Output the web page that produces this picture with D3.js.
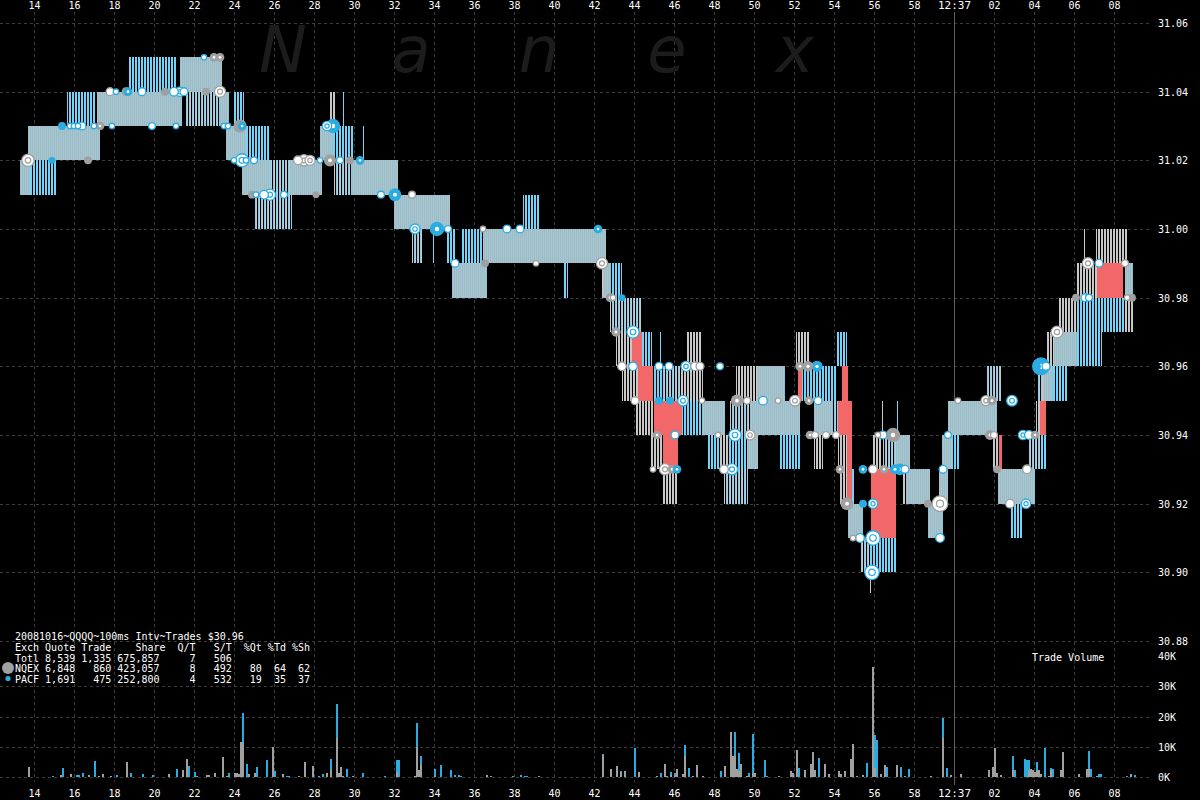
<!DOCTYPE html>
<html><head><meta charset="utf-8">
<script src="https://cdn.jsdelivr.net/npm/d3@7"></script>
<style>
body{margin:0;background:#000;}
svg{display:block;background:#000;}
text{font-family:"DejaVu Sans Mono",monospace;fill:#fff;}
</style>
</head><body>
<svg id="c" width="1200" height="800"></svg>
<script>
// ---------- DATA ----------
// time in seconds after 12:36:00
const timeTicks = [14,16,18,20,22,24,26,28,30,32,34,36,38,40,42,44,46,48,50,52,54,56,58,60,62,64,66,68];
const timeLabels = ["14","16","18","20","22","24","26","28","30","32","34","36","38","40","42","44","46","48","50","52","54","56","58","12:37","02","04","06","08"];
const priceTicks = [30.88,30.90,30.92,30.94,30.96,30.98,31.00,31.02,31.04,31.06];
const volumeTicks = [0,10000,20000,30000,40000];
const volumeLabels = ["0K","10K","20K","30K","40K"];

// quote spans: [start, end, low, high, kind]
// kind: S both exchanges same quote, B PACF only, G NQEX only, M mixed, R crossed/locked
const quotes = [
[13.3,13.8,31.01,31.02,"S"],[13.8,15.1,31.01,31.02,"B"],[13.7,17.3,31.02,31.03,"S"],
[15.65,17.1,31.03,31.04,"B"],[17.15,21.4,31.03,31.04,"S"],[18.75,21.1,31.04,31.05,"B"],
[21.3,23.4,31.04,31.05,"S"],[21.6,23.3,31.03,31.04,"M"],[23.3,23.75,31.03,31.04,"S"],
[24.0,24.5,31.03,31.04,"B"],[23.6,24.6,31.02,31.03,"S"],[24.6,25.8,31.02,31.03,"B"],
[24.4,25.8,31.01,31.02,"S"],[25.8,26.8,31.01,31.02,"M"],[26.8,28.4,31.01,31.02,"S"],
[25.0,26.9,31.00,31.01,"M"],[28.3,28.95,31.02,31.03,"S"],[28.8,29.05,31.03,31.04,"G"],
[29.45,29.5,31.03,31.04,"B"],[28.95,30.0,31.02,31.03,"B"],[30.45,30.5,31.02,31.03,"B"],
[29.0,29.9,31.01,31.02,"M"],[29.9,32.2,31.01,31.02,"S"],[32.0,34.8,31.00,31.01,"S"],
[32.9,33.4,30.99,31.00,"M"],[33.95,34.05,30.99,31.00,"B"],[34.65,35.1,30.99,31.00,"B"],
[34.9,36.65,30.98,30.99,"S"],[35.35,36.45,30.99,31.00,"B"],[36.45,42.6,30.99,31.00,"S"],
[38.45,39.3,31.00,31.01,"B"],[40.45,40.7,30.98,30.99,"B"],[42.4,42.45,30.98,30.99,"G"],
[42.45,42.85,30.98,30.99,"S"],[42.85,43.4,30.98,30.99,"B"],[42.8,42.85,30.97,30.98,"G"],
[42.9,44.4,30.97,30.98,"M"],[43.1,43.9,30.96,30.97,"G"],[43.9,44.4,30.96,30.97,"R"],
[44.4,44.9,30.96,30.97,"B"],[45.3,45.35,30.96,30.97,"B"],[43.4,44.2,30.95,30.96,"G"],
[44.2,44.95,30.95,30.96,"R"],[44.95,45.4,30.95,30.96,"B"],[45.4,46.3,30.95,30.96,"M"],
[46.3,47.45,30.95,30.96,"G"],[46.6,47.4,30.96,30.97,"G"],[44.1,45.0,30.94,30.95,"G"],
[45.0,46.4,30.94,30.95,"R"],[45.45,46.2,30.93,30.94,"R"],[46.4,47.4,30.94,30.95,"B"],
[47.4,48.55,30.94,30.95,"S"],[44.8,45.45,30.93,30.94,"G"],[45.4,46.15,30.92,30.93,"G"],
[47.65,48.3,30.93,30.94,"B"],[48.3,48.7,30.93,30.94,"G"],[48.5,49.7,30.92,30.93,"M"],
[48.7,49.65,30.93,30.94,"B"],[49.65,50.2,30.93,30.94,"S"],[48.8,49.8,30.94,30.95,"M"],
[49.1,50.15,30.95,30.96,"G"],[49.8,52.3,30.94,30.95,"S"],[50.15,51.55,30.95,30.96,"S"],
[51.25,52.3,30.93,30.94,"B"],[52.1,52.8,30.96,30.97,"G"],[52.15,54.15,30.95,30.96,"B"],
[52.2,52.4,30.95,30.96,"R"],[53.0,53.95,30.94,30.95,"S"],[53.0,53.45,30.93,30.94,"G"],
[54.15,54.65,30.96,30.97,"B"],[53.95,54.3,30.94,30.95,"M"],[54.4,54.7,30.95,30.96,"R"],
[54.2,54.9,30.94,30.95,"R"],[54.2,54.65,30.93,30.94,"G"],[54.3,54.65,30.92,30.93,"G"],
[54.65,54.9,30.92,30.94,"R"],[54.9,55.0,30.92,30.93,"B"],[54.7,55.45,30.91,30.92,"S"],
[55.3,55.8,30.90,30.91,"M"],[55.8,57.15,30.90,30.91,"B"],[55.85,57.1,30.91,30.93,"R"],
[55.95,56.4,30.93,30.94,"G"],[56.45,57.2,30.93,30.94,"M"],[57.1,57.8,30.93,30.94,"S"],
[56.4,56.45,30.94,30.95,"G"],[57.15,57.2,30.94,30.95,"B"],[55.8,55.85,30.894,30.90,"G"],
[57.4,57.65,30.92,30.93,"G"],[57.6,58.8,30.92,30.93,"S"],[58.7,59.45,30.91,30.92,"S"],
[59.25,59.7,30.92,30.93,"S"],[59.4,59.9,30.93,30.94,"S"],[59.9,60.3,30.93,30.94,"B"],
[59.7,62.15,30.94,30.95,"S"],[61.6,62.4,30.95,30.96,"M"],[61.9,62.3,30.93,30.94,"G"],
[62.25,62.4,30.93,30.94,"R"],[62.2,64.05,30.92,30.93,"S"],[62.8,63.45,30.91,30.92,"B"],
[63.7,64.3,30.93,30.94,"M"],[64.3,64.6,30.94,30.95,"R"],[64.3,64.6,30.93,30.94,"B"],
[64.1,64.3,30.94,30.95,"G"],[64.2,64.45,30.95,30.96,"M"],[64.45,64.95,30.95,30.96,"S"],
[64.95,65.65,30.95,30.96,"B"],[64.6,65.0,30.96,30.97,"G"],[65.0,66.15,30.96,30.97,"S"],
[66.15,67.4,30.96,30.97,"B"],[65.2,66.15,30.97,30.98,"G"],[66.15,68.65,30.97,30.98,"B"],
[68.55,68.95,30.97,30.98,"G"],[66.1,67.15,30.98,30.99,"G"],[67.15,68.45,30.98,30.99,"R"],
[68.55,68.95,30.98,30.99,"S"],[67.1,68.65,30.99,31.00,"G"],[66.5,66.55,30.99,31.00,"G"]
];

// trades: [time, price, exchange, shares, mark]  mark: o = open (white centre), f = filled
const trades = [
[13.7,31.02,"N",1000,"o"],[14.9,31.02,"P",200,"f"],[15.4,31.03,"P",300,"f"],[15.8,31.03,"P",100,"o"],
[16.0,31.03,"P",100,"o"],[16.2,31.03,"P",100,"o"],[16.4,31.03,"P",300,"o"],[16.7,31.02,"N",300,"f"],
[17.0,31.03,"P",100,"o"],[17.3,31.03,"N",400,"f"],[17.8,31.04,"N",300,"o"],[18.1,31.04,"P",100,"o"],
[17.9,31.03,"P",100,"o"],[18.6,31.04,"N",400,"f"],[18.7,31.04,"P",400,"f"],[19.4,31.04,"P",300,"o"],
[19.9,31.03,"P",200,"o"],[20.55,31.04,"N",300,"f"],[21.0,31.04,"P",400,"o"],[21.3,31.04,"P",500,"o"],
[21.5,31.04,"P",300,"o"],[21.1,31.03,"P",100,"o"],[22.5,31.05,"P",100,"o"],[23.0,31.05,"N",400,"f"],
[23.3,31.05,"N",400,"f"],[22.6,31.04,"N",300,"f"],[23.3,31.04,"N",800,"o"],[23.5,31.03,"P",100,"o"],
[23.7,31.03,"P",100,"o"],[24.3,31.03,"N",1200,"f"],[24.4,31.03,"P",400,"f"],[24.0,31.02,"P",100,"o"],
[24.4,31.02,"P",1200,"o"],[24.6,31.02,"P",100,"o"],[25.0,31.02,"P",200,"o"],[24.9,31.01,"N",300,"f"],
[25.1,31.01,"P",100,"o"],[25.5,31.01,"P",400,"o"],[25.8,31.01,"P",800,"o"],[26.5,31.01,"P",200,"o"],
[27.2,31.02,"N",400,"o"],[27.5,31.02,"N",800,"o"],[27.8,31.02,"N",600,"o"],[28.1,31.01,"N",200,"f"],
[28.3,31.02,"P",100,"o"],[28.8,31.02,"N",1000,"f"],[29.3,31.02,"P",200,"o"],[29.8,31.02,"N",300,"f"],
[28.65,31.03,"P",500,"o"],[28.95,31.03,"P",1500,"f"],[30.3,31.02,"P",400,"f"],[31.35,31.01,"P",200,"o"],
[32.05,31.01,"P",1100,"f"],[32.9,31.01,"N",200,"o"],[33.05,31.00,"P",600,"o"],[34.15,31.00,"P",1500,"f"],
[34.7,31.00,"P",200,"o"],[35.05,30.99,"P",300,"o"],[36.45,31.00,"N",100,"o"],[36.55,30.99,"N",300,"f"],
[37.65,31.00,"P",300,"o"],[38.3,31.00,"P",300,"o"],[39.1,30.99,"N",100,"o"],[42.2,31.00,"P",400,"f"],
[42.4,30.99,"N",800,"o"],[42.8,30.98,"N",400,"f"],[42.95,30.98,"N",100,"o"],[43.4,30.98,"P",200,"f"],
[43.1,30.97,"N",500,"f"],[43.95,30.97,"P",1000,"o"],[43.4,30.96,"N",400,"o"],[43.95,30.96,"P",400,"o"],
[45.25,30.96,"P",300,"o"],[45.75,30.96,"P",300,"o"],[46.6,30.96,"P",600,"o"],[47.05,30.96,"N",400,"o"],
[47.3,30.96,"N",300,"o"],[48.3,30.96,"P",200,"o"],[44.05,30.95,"N",300,"o"],[45.25,30.95,"P",300,"f"],
[45.8,30.95,"P",300,"f"],[46.45,30.95,"P",700,"o"],[47.4,30.95,"N",100,"o"],[45.15,30.94,"N",400,"f"],
[46.05,30.94,"P",300,"o"],[44.95,30.93,"N",100,"o"],[45.55,30.93,"N",800,"o"],[45.9,30.93,"N",400,"f"],
[46.15,30.93,"P",400,"f"],[48.2,30.94,"N",100,"o"],[49.05,30.94,"P",1000,"o"],[49.8,30.94,"N",600,"o"],
[48.5,30.93,"N",400,"o"],[48.9,30.93,"P",800,"o"],[49.15,30.95,"N",1000,"f"],[49.65,30.95,"N",200,"o"],
[50.45,30.95,"P",400,"o"],[51.2,30.95,"N",100,"o"],[52.05,30.95,"N",700,"o"],[52.75,30.95,"N",400,"f"],
[53.2,30.95,"P",300,"o"],[52.3,30.96,"N",500,"f"],[52.7,30.96,"N",700,"f"],[53.15,30.96,"P",800,"f"],
[52.8,30.94,"N",400,"f"],[53.05,30.94,"N",200,"o"],[53.6,30.94,"N",200,"o"],[54.1,30.94,"N",200,"o"],
[54.3,30.93,"N",400,"f"],[55.45,30.93,"P",400,"f"],[55.95,30.93,"N",400,"o"],[56.5,30.93,"N",400,"f"],
[57.05,30.93,"P",600,"f"],[54.65,30.92,"N",1100,"f"],[55.45,30.92,"P",300,"f"],[55.95,30.92,"P",500,"o"],
[54.95,30.91,"N",100,"o"],[55.3,30.91,"P",400,"o"],[55.95,30.91,"P",1500,"o"],[55.9,30.90,"P",1500,"o"],
[56.2,30.94,"N",100,"o"],[56.45,30.94,"P",300,"o"],[56.95,30.94,"N",1500,"f"],[57.55,30.93,"P",300,"o"],
[57.3,30.93,"P",900,"f"],[58.7,30.92,"N",300,"f"],[59.3,30.92,"N",1800,"o"],[59.3,30.91,"P",400,"o"],
[59.45,30.93,"P",300,"o"],[59.7,30.94,"P",200,"o"],[60.2,30.95,"N",100,"o"],[61.6,30.95,"N",600,"o"],
[61.9,30.95,"N",500,"f"],[61.8,30.94,"N",600,"f"],[62.0,30.94,"N",200,"o"],[62.9,30.95,"P",700,"o"],
[62.15,30.93,"N",300,"f"],[62.8,30.92,"N",400,"o"],[63.6,30.92,"P",500,"o"],[63.45,30.94,"P",500,"o"],
[63.75,30.94,"P",400,"o"],[64.05,30.94,"N",400,"f"],[63.65,30.93,"N",400,"o"],[64.15,30.96,"P",300,"f"],
[64.35,30.96,"P",2500,"f"],[64.6,30.96,"P",300,"o"],[65.15,30.97,"N",900,"o"],[66.1,30.98,"N",300,"f"],
[66.55,30.98,"P",300,"o"],[66.75,30.98,"P",200,"o"],[66.7,30.99,"N",800,"o"],[67.25,30.99,"P",300,"o"],
[68.55,30.99,"N",200,"o"],[68.65,30.98,"N",100,"o"],[68.9,30.98,"N",300,"f"]
];

// volume per 100ms interval: [time, NQEX shares, PACF shares]
const volumes = [
[13.7,3300,0],[14.9,0,200],[15.3,500,0],[15.4,0,3000],[15.8,1000,0],[16.1,0,500],[16.2,0,500],
[16.4,0,1300],[16.7,500,0],[17.0,0,5300],[17.2,200,0],[17.4,1000,0],[17.8,300,0],[18.1,0,800],
[18.6,5000,0],[18.8,0,1300],[19.4,0,1100],[19.9,0,800],[20.7,1100,0],[21.1,0,2700],[21.4,2200,0],
[21.6,6000,0],[21.7,0,3700],[22.0,0,1800],[22.1,200,0],[22.6,500,0],[22.7,800,0],[23.0,1300,0],
[23.4,6700,0],[23.6,300,0],[23.7,0,1300],[24.0,1300,0],[24.1,1300,0],[24.2,1100,0],[24.3,11600,0],
[24.4,11600,9600],[24.6,0,4300],[24.7,1100,0],[25.0,1300,0],[25.1,0,3300],[25.6,0,5700],
[25.9,10000,0],[26.0,0,2000],[26.4,1000,0],[26.6,0,400],[26.7,0,400],[27.2,200,0],[27.5,5000,0],
[27.9,3700,0],[28.2,0,400],[28.4,0,1000],[28.6,1300,0],[28.8,2200,3800],[29.1,13000,11000],
[29.2,1300,0],[29.3,3300,0],[29.4,200,0],[29.6,0,2700],[29.9,400,0],[30.4,0,1400],[31.5,0,200],
[32.1,1500,4000],[32.2,0,5700],[33.0,200,0],[33.1,10000,7900],[33.2,2400,0],[33.3,4000,3000],
[34.0,300,2400],[34.3,0,4000],[34.8,0,2400],[35.0,0,500],[35.2,0,500],[35.3,0,300],[36.6,800,0],
[36.8,200,0],[37.9,0,200],[38.3,0,800],[38.5,0,200],[38.6,0,200],[39.2,200,0],[42.4,7300,300],
[42.8,2700,0],[43.1,3700,0],[43.3,1500,500],[43.5,2000,0],[44.0,0,9500],[44.2,1700,0],[45.1,200,0],
[45.3,0,1400],[45.5,4400,0],[45.6,200,0],[45.8,500,1300],[46.0,500,800],[46.1,2600,0],[46.4,1000,0],
[46.5,7000,3600],[46.7,0,3000],[46.9,200,0],[47.1,4000,0],[47.4,400,0],[48.3,0,2000],[48.5,3700,0],
[48.8,14800,0],[48.9,7000,0],[49.0,7000,7800],[49.1,2500,200],[49.2,2000,6000],[49.3,4200,0],
[49.6,200,0],[49.7,300,1100],[49.9,1300,13000],[50.0,1300,0],[50.5,0,5500],[50.6,0,200],[51.2,200,0],
[51.8,2000,0],[51.9,1300,0],[52.1,8800,0],[52.2,0,3000],[52.5,2400,0],[52.8,4300,0],[52.9,8400,0],
[53.0,2400,0],[53.2,0,6200],[53.5,4300,0],[53.7,1000,0],[54.2,2000,0],[54.3,1000,0],[54.5,2000,0],
[54.8,6000,0],[54.9,11000,0],[55.1,200,0],[55.4,800,0],[55.6,0,4600],[55.9,36500,0],[56.0,3000,10800],
[56.1,0,12300],[56.3,1000,0],[56.5,4000,0],[56.6,0,3300],[57.1,4000,0],[57.3,0,3400],[57.5,200,0],
[57.7,0,2600],[58.8,300,0],[59.4,13000,6600],[59.6,0,3000],[59.8,500,0],[60.3,1000,0],[61.7,2400,0],
[61.9,3300,0],[62.0,9500,0],[62.1,1300,0],[62.3,500,0],[62.9,2200,4900],[63.0,0,2200],[63.5,0,6000],
[63.6,0,5600],[63.7,2400,3200],[63.8,2700,0],[63.9,2200,0],[64.0,1700,0],[64.1,2200,2800],
[64.2,2200,0],[64.3,1100,0],[64.5,0,9600],[64.7,200,0],[64.8,2400,600],[64.9,0,2600],[65.3,2400,0],
[65.4,8300,0],[66.2,1100,0],[66.6,2700,0],[66.7,2700,6000],[66.8,0,2600],[67.1,200,0],[67.2,0,1000],
[67.3,0,1000],[68.6,0,200],[68.8,1000,0],[69.0,0,800]
];

const watermark = ["N","a","n","e","x"];
const legendTitle = "20081016~QQQQ~100ms Intv~Trades $30.96";
const legendRows = [
"Exch Quote Trade    Share  Q/T   S/T  %Qt %Td %Sh",
"Totl 8,539 1,335 675,857     7   506",
"NQEX 6,848   860 423,057     8   492   80  64  62",
"PACF 1,691   475 252,800     4   532   19  35  37"
];
const legendExch = [null, null, "N", "P"];

// ---------- STYLE ----------
const C = {blue:"#2aace2", gray:"#a0a0a0", qBlue:"#72d4f8", qGray:"#c8c8c8",
           sBlue:"#88c4d8", sGray:"#bcbebf", red:"#f26868", grid:"#3c3c3c"};
const exchColor = {N:C.gray, P:C.blue};

// ---------- SCALES ----------
const svg = d3.select("#c");
const x = d3.scaleLinear().domain([14,68]).range([34,1114]);
const y = d3.scaleLinear().domain([30.88,31.06]).range([641,23]);
const yv = d3.scaleLinear().domain([0,40000]).range([777,656]);
const r = d3.scaleSqrt().domain([0,2500]).range([1.2,9]);
const step = x(0.1) - x(0); // one 100ms interval

// ---------- GRID ----------
const g = svg.append("g");
g.selectAll("line.vx").data(timeTicks).join("line")
  .attr("x1",d=>x(d)+0.5).attr("x2",d=>x(d)+0.5).attr("y1",12).attr("y2",782)
  .attr("stroke",C.grid).attr("stroke-dasharray","3,3");
g.selectAll("line.hp").data(priceTicks).join("line")
  .attr("x1",0).attr("x2",1152).attr("y1",d=>Math.round(y(d))+0.5).attr("y2",d=>Math.round(y(d))+0.5)
  .attr("stroke",C.grid).attr("stroke-dasharray","3,3");
g.selectAll("line.hv").data(volumeTicks.slice(0,4)).join("line")
  .attr("x1",0).attr("x2",1152).attr("y1",d=>Math.round(yv(d))+0.5).attr("y2",d=>Math.round(yv(d))+0.5)
  .attr("stroke",C.grid).attr("stroke-dasharray","3,3");

// minute line
svg.append("line").attr("x1",x(60)+0.5).attr("x2",x(60)+0.5).attr("y1",12).attr("y2",785)
  .attr("stroke","#5e5e5e").attr("stroke-width",1);

// watermark
const wm = d3.scalePoint().domain(watermark).range([283,795]);
svg.selectAll("text.wm").data(watermark).join("text")
  .attr("x",d=>wm(d)).attr("y",72).attr("text-anchor","middle")
  .style("font-family","'DejaVu Sans',sans-serif").style("font-style","italic")
  .style("font-size","64px").style("fill","#1c1c1c").text(d=>d);

// ---------- QUOTES (1px lines per pixel column within each span) ----------
const colOf = (kind, px) => {
  if(kind==="S") return px%2===0 ? C.sBlue : C.sGray;
  if(kind==="B") return px%3!==2 ? C.qBlue : null;
  if(kind==="G") return px%3!==2 ? C.qGray : null;
  if(kind==="M") return px%3===0 ? C.qBlue : (px%3===1 ? C.qGray : null);
};
const quoteG = svg.append("g").attr("shape-rendering","crispEdges");
quotes.forEach(q=>{
  const px0 = Math.round(x(q[0])), px1 = Math.max(px0+1, Math.round(x(q[1])));
  const yTop = Math.round(y(q[3])), yBot = Math.round(y(q[2]));
  if(q[4]==="R"){
    quoteG.append("rect").attr("x",px0).attr("y",yTop).attr("width",px1-px0).attr("height",yBot-yTop).attr("fill",C.red);
    return;
  }
  quoteG.append("rect").attr("x",px0).attr("y",yTop).attr("width",px1-px0).attr("height",yBot-yTop).attr("fill","#000");
  const byCol = {};
  for(let px=px0; px<px1; px++){
    let c = colOf(q[4], px);
    if(!c && px1-px0<=2 && px===px0) c = q[4]==="G" ? C.qGray : C.qBlue;
    if(!c) continue;
    (byCol[c] = byCol[c] || []).push(`M${px},${yTop}h1v${yBot-yTop}h-1z`);
  }
  Object.entries(byCol).forEach(([c,parts])=>quoteG.append("path").attr("d",parts.join("")).attr("fill",c));
});

// ---------- TRADES ----------
const tg = svg.append("g");
const sorted = trades.slice().sort((a,b)=>b[3]-a[3]);
sorted.forEach(d=>{
  const cx = x(d[0]), cy = y(d[1]), rr = Math.max(2.6, r(d[3]));
  const col = exchColor[d[2]];
  if(d[4]==="f"){
    tg.append("circle").attr("cx",cx).attr("cy",cy).attr("r",rr).attr("fill",col);
    if(rr>4) tg.append("circle").attr("cx",cx).attr("cy",cy).attr("r",rr*0.3).attr("fill","#fff");
  } else {
    tg.append("circle").attr("cx",cx).attr("cy",cy).attr("r",rr).attr("fill","#fff")
      .attr("stroke",col).attr("stroke-width",1.3);
    if(rr>4.5) tg.append("circle").attr("cx",cx).attr("cy",cy).attr("r",rr*0.45).attr("fill","none")
      .attr("stroke",col).attr("stroke-width",1.2);
  }
});

// ---------- VOLUME ----------
const vg = svg.append("g").attr("shape-rendering","crispEdges");
vg.selectAll("rect.n").data(volumes.filter(d=>d[1]>0)).join("rect")
  .attr("x",d=>Math.round(x(d[0]))).attr("width",step)
  .attr("y",d=>yv(d[1])).attr("height",d=>yv(0)-yv(d[1])).attr("fill",C.gray);
vg.selectAll("rect.p").data(volumes.filter(d=>d[2]>0)).join("rect")
  .attr("x",d=>Math.round(x(d[0]))).attr("width",step)
  .attr("y",d=>yv(d[1]+d[2])).attr("height",d=>yv(d[1])-yv(d[1]+d[2])).attr("fill",C.blue);

// ---------- AXIS LABELS ----------
const lab = svg.append("g").style("font-size","10px");
lab.selectAll("text.t").data(timeTicks).join("text")
  .attr("x",d=>x(d)+0.5).attr("y",9).attr("text-anchor","middle")
  .style("font-size",(d,i)=>timeLabels[i]==="12:37"?"11px":"10px").text((d,i)=>timeLabels[i]);
lab.selectAll("text.b").data(timeTicks).join("text")
  .attr("x",d=>x(d)+0.5).attr("y",797).attr("text-anchor","middle")
  .style("font-size",(d,i)=>timeLabels[i]==="12:37"?"11px":"10px").text((d,i)=>timeLabels[i]);
lab.selectAll("text.p").data(priceTicks).join("text")
  .attr("x",1158).attr("y",d=>y(d)+4).style("font-size","10px").text(d=>d.toFixed(2));
lab.selectAll("text.v").data(volumeTicks).join("text")
  .attr("x",1158).attr("y",d=>yv(d)+4).style("font-size","10px").text((d,i)=>volumeLabels[i]);
svg.append("text").attr("x",1032).attr("y",661).style("font-size","10px").text("Trade Volume");

// ---------- LEGEND ----------
const lg = svg.append("g").style("font-size","10px");
lg.append("text").attr("x",15).attr("y",640).style("white-space","pre").text(legendTitle);
lg.selectAll("text.row").data(legendRows).join("text")
  .attr("x",15).attr("y",(d,i)=>651+i*10.5).style("white-space","pre").text(d=>d);
lg.selectAll("circle").data(legendExch.map((e,i)=>[e,i]).filter(d=>d[0])).join("circle")
  .attr("cx",8).attr("cy",d=>647+d[1]*10.5).attr("r",d=>d[0]==="N"?6:2.6)
  .attr("fill",d=>exchColor[d[0]]);
</script>
</body></html>
